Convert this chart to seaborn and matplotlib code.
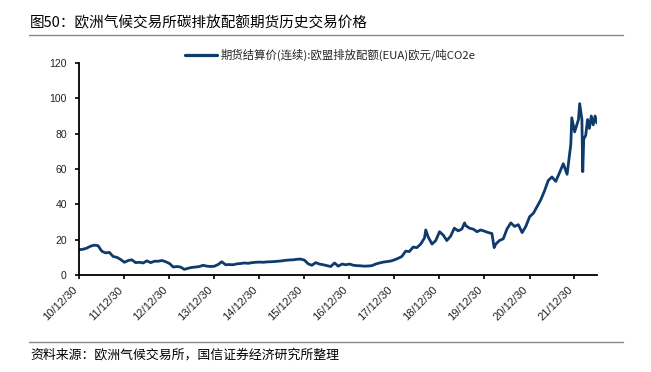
import matplotlib
matplotlib.use("Agg")
import matplotlib.pyplot as plt
import matplotlib.dates as mdates
from matplotlib.lines import Line2D
import seaborn as sns
import pandas as pd

# ---- data ----
dates = [
    "2010-12-30", "2011-01-31", "2011-02-28", "2011-03-31", "2011-04-30", "2011-05-31",
    "2011-06-30", "2011-07-31", "2011-08-31", "2011-09-30", "2011-10-31", "2011-11-30",
    "2011-12-31", "2012-01-31", "2012-02-29", "2012-03-31", "2012-04-30", "2012-05-31",
    "2012-06-30", "2012-07-31", "2012-08-31", "2012-09-30", "2012-10-31", "2012-11-30",
    "2012-12-31", "2013-01-31", "2013-02-28", "2013-03-31", "2013-04-30", "2013-05-31",
    "2013-06-30", "2013-07-31", "2013-08-31", "2013-09-30", "2013-10-31", "2013-11-30",
    "2013-12-31", "2014-01-31", "2014-02-28", "2014-03-31", "2014-04-30", "2014-05-31",
    "2014-06-30", "2014-07-31", "2014-08-31", "2014-09-30", "2014-10-31", "2014-11-30",
    "2014-12-31", "2015-01-31", "2015-02-28", "2015-03-31", "2015-04-30", "2015-05-31",
    "2015-06-30", "2015-07-31", "2015-08-31", "2015-09-30", "2015-10-31", "2015-11-30",
    "2015-12-31", "2016-01-31", "2016-02-29", "2016-03-31", "2016-04-30", "2016-05-31",
    "2016-06-30", "2016-07-31", "2016-08-31", "2016-09-30", "2016-10-31", "2016-11-30",
    "2016-12-31", "2017-01-31", "2017-02-28", "2017-03-31", "2017-04-30", "2017-05-31",
    "2017-06-30", "2017-07-31", "2017-08-31", "2017-09-30", "2017-10-31", "2017-11-30",
    "2017-12-31", "2018-01-31", "2018-02-28", "2018-03-31", "2018-04-30", "2018-05-31",
    "2018-06-30", "2018-07-31", "2018-08-31", "2018-09-10", "2018-09-30", "2018-10-31",
    "2018-11-30", "2018-12-31", "2019-01-31", "2019-02-28", "2019-03-31", "2019-04-30",
    "2019-05-31", "2019-06-30", "2019-07-22", "2019-07-31", "2019-08-31", "2019-09-30",
    "2019-10-31", "2019-11-30", "2019-12-31", "2020-01-31", "2020-02-29", "2020-03-18",
    "2020-03-31", "2020-04-30", "2020-05-31", "2020-06-30", "2020-07-31", "2020-08-31",
    "2020-09-30", "2020-10-31", "2020-11-30", "2020-12-31", "2021-01-31", "2021-02-28",
    "2021-03-31", "2021-04-30", "2021-05-31", "2021-06-30", "2021-07-31", "2021-08-31",
    "2021-09-30", "2021-10-31", "2021-11-30", "2021-12-08", "2021-12-31", "2022-01-31",
    "2022-02-10", "2022-02-28", "2022-03-07", "2022-03-15", "2022-03-31", "2022-04-15",
    "2022-04-30", "2022-05-15", "2022-05-31", "2022-06-15", "2022-06-30",
]
prices = [
    14.3, 14.6, 15.2, 16.3, 16.9, 16.6,
    13.5, 12.5, 12.8, 10.5, 10.0, 8.8,
    7.2, 8.2, 8.6, 7.0, 7.2, 6.8,
    8.0, 7.0, 7.8, 7.8, 8.2, 7.5,
    6.5, 4.5, 4.8, 4.5, 3.2, 3.8,
    4.3, 4.5, 4.8, 5.5, 5.0, 4.8,
    5.0, 6.0, 7.5, 5.8, 5.9, 5.8,
    6.3, 6.5, 6.8, 6.6, 7.0, 7.2,
    7.3, 7.2, 7.4, 7.5, 7.6, 7.8,
    8.0, 8.3, 8.5, 8.6, 8.9, 9.0,
    8.4, 6.3, 5.5, 7.0, 6.2, 5.8,
    5.3, 4.8, 6.8, 5.0, 6.2, 5.8,
    6.2, 5.5, 5.3, 5.2, 5.0, 5.1,
    5.3, 6.2, 6.8, 7.3, 7.6, 7.9,
    8.6, 9.5, 10.5, 13.5, 13.3, 15.8,
    15.5, 17.5, 21.0, 25.5, 21.5, 17.5,
    19.5, 24.5, 22.5, 19.5, 22.0, 26.5,
    25.0, 26.0, 29.5, 28.0, 26.5, 26.0,
    24.5, 25.5, 24.8, 24.0, 23.5, 15.5,
    17.5, 19.5, 20.5, 26.0, 29.5, 27.5,
    28.5, 24.0, 27.5, 33.0, 35.0, 38.5,
    42.5, 47.5, 53.5, 55.5, 53.0, 58.0,
    63.0, 57.0, 74.0, 89.0, 81.0, 88.0,
    97.0, 88.0, 58.5, 77.0, 79.0, 88.0,
    83.0, 90.0, 85.0, 90.0, 86.0,
]
tick_dates = ["2010-12-30", "2011-12-30", "2012-12-30", "2013-12-30", "2014-12-30",
              "2015-12-30", "2016-12-30", "2017-12-30", "2018-12-30", "2019-12-30",
              "2020-12-30", "2021-12-30"]
tick_labels = ["10/12/30", "11/12/30", "12/12/30", "13/12/30", "14/12/30", "15/12/30",
               "16/12/30", "17/12/30", "18/12/30", "19/12/30", "20/12/30", "21/12/30"]
y_ticks = [0, 20, 40, 60, 80, 100, 120]
series_name = "期货结算价(连续):欧盟排放配额(EUA)欧元/吨CO2e"
title_text = "图50：欧洲气候交易所碳排放配额期货历史交易价格"
source_text = "资料来源：欧洲气候交易所，国信证券经济研究所整理"

df = pd.DataFrame({"date": pd.to_datetime(dates), "price": prices, "series": series_name})

sns.set_theme(style="white")
plt.rcParams["font.family"] = ["Noto Sans CJK SC", "DejaVu Sans"]

W, H = 651, 372
fig = plt.figure(figsize=(W / 100, H / 100), dpi=100)
ax = fig.add_axes([79.3 / W, (H - 275) / H, (597.3 - 79.3) / W, (275 - 63) / H])

line_color = "#0F3A6C"
sns.lineplot(data=df, x="date", y="price", hue="series", palette=[line_color],
             linewidth=2.0, ax=ax)

ax.set_xlim(pd.Timestamp("2010-12-30"), pd.Timestamp("2022-07-03"))
ax.set_ylim(0, 120)
ax.set_yticks(y_ticks)
ax.set_yticklabels([str(v) for v in y_ticks], fontsize=7.5, family=["Liberation Sans", "DejaVu Sans"])
ax.set_xticks(pd.to_datetime(tick_dates))
ax.set_xticklabels(tick_labels, rotation=45, ha="right", va="top", fontsize=8,
                   family=["Liberation Sans", "DejaVu Sans"])
ax.set_xlabel("")
ax.set_ylabel("")

for s in ["top", "right"]:
    ax.spines[s].set_visible(False)
for s in ["left", "bottom"]:
    ax.spines[s].set_color("black")
    ax.spines[s].set_linewidth(1.3)
ax.tick_params(axis="both", which="major", direction="out", length=3, width=1.2,
               color="black", bottom=True, left=True, labelcolor="#222222")
ax.tick_params(axis="y", pad=6)
ax.tick_params(axis="x", pad=4)

leg = ax.legend(loc="center", bbox_to_anchor=((330 - 79.3) / (597.3 - 79.3), 1 + (63 - 55) / (275 - 63)),
                frameon=False, fontsize=8.2, handlelength=2.8, handletextpad=0.3,
                borderaxespad=0, borderpad=0)
for lh in leg.get_lines():
    lh.set_linewidth(2.3)

# Title, rules and source note
fig.text(30 / W, 1 - 23 / H, title_text, fontsize=10.5, ha="left", va="center", color="black")
fig.add_artist(Line2D([29 / W, 623 / W], [1 - 34.5 / H, 1 - 34.5 / H], color="#888888", linewidth=1.0))
fig.add_artist(Line2D([29 / W, 623 / W], [1 - 342 / H, 1 - 342 / H], color="#888888", linewidth=1.0))
fig.text(30 / W, 1 - 355 / H, source_text, fontsize=9.3, ha="left", va="center", color="black")

fig.savefig("out.png", dpi=100, facecolor="white")
